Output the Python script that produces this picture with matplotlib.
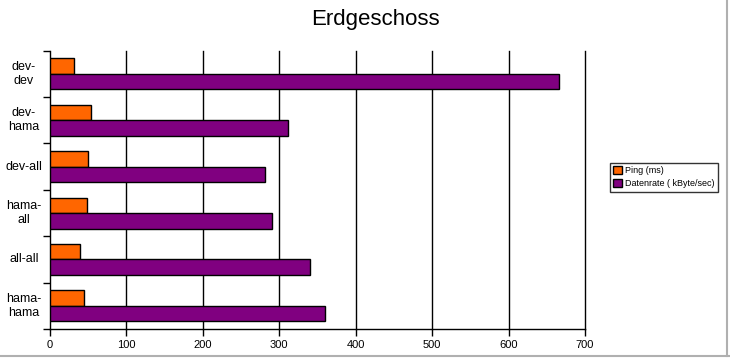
import numpy as np
import matplotlib.pyplot as plt
from matplotlib.lines import Line2D

plt.rcParams['font.family'] = ['Liberation Sans', 'DejaVu Sans']

categories = ['dev-\ndev', 'dev-\nhama', 'dev-all', 'hama-\nall', 'all-all', 'hama-\nhama']
ping = [32, 54, 50, 48, 39, 44]
datenrate = [666, 311, 281, 290, 340, 360]
xticks = [0, 100, 200, 300, 400, 500, 600, 700]

fig = plt.figure(figsize=(7.3, 3.58), dpi=100)
ax = fig.add_axes([50 / 730, 1 - 329 / 358, 535 / 730, 278.3 / 358])

y = np.arange(len(categories))
h = 0.335
ax.barh(y - h / 2, ping, height=h, color='#FF6600', edgecolor='black',
        linewidth=1, label='Ping (ms)', zorder=3)
ax.barh(y + h / 2, datenrate, height=h, color='#800080', edgecolor='black',
        linewidth=1, label='Datenrate ( kByte/sec)', zorder=3)

ax.set_xlim(0, 700)
ax.set_ylim(len(categories) - 0.5, -0.5)

# vertical gridlines
for v in xticks[1:]:
    ax.axvline(v, color='black', linewidth=1, zorder=1, clip_on=False)

ax.spines['top'].set_visible(False)
ax.spines['right'].set_visible(False)
ax.spines['left'].set_linewidth(1)
ax.spines['bottom'].set_linewidth(1)

ax.set_xticks(xticks)
ax.set_xticklabels([str(v) for v in xticks], fontsize=8)
ax.tick_params(axis='x', direction='out', length=5, width=1, pad=3)

# ticks between the categories, labels centred on each group
ax.set_yticks(np.arange(-0.5, len(categories), 1))
ax.set_yticklabels([])
ax.tick_params(axis='y', direction='out', length=5, width=1)
for i, c in enumerate(categories):
    ax.annotate(c, xy=(0, i), xycoords=('axes fraction', 'data'),
                xytext=(-26, 0), textcoords='offset pixels',
                ha='center', va='center', multialignment='center', fontsize=9,
                annotation_clip=False)

fig.suptitle('Erdgeschoss', x=375 / 730, y=1 - 20 / 358, va='center', fontsize=16)

leg = fig.legend(loc='upper left', bbox_to_anchor=(605 / 730, 1 - 158 / 358),
                 fontsize=6.5, frameon=True, fancybox=False, edgecolor='black',
                 handlelength=1.0, handleheight=1.0, handletextpad=0.3,
                 borderpad=0.4, labelspacing=0.4)
leg.get_frame().set_linewidth(1)

# light frame lines of the chart area
fig.add_artist(Line2D([0, 1], [2 / 358, 2 / 358], color='#b0b0b0', linewidth=1.5,
                      transform=fig.transFigure))
fig.add_artist(Line2D([727 / 730, 727 / 730], [2 / 358, 1], color='#b0b0b0',
                      linewidth=1.5, transform=fig.transFigure))

fig.savefig('out.png', dpi=100)
